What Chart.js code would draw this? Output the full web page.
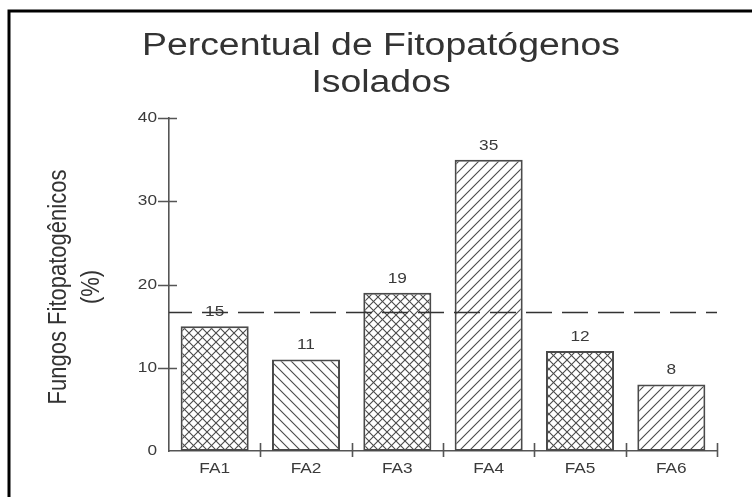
<!DOCTYPE html>
<html>
<head>
<meta charset="utf-8">
<script src="https://cdn.jsdelivr.net/npm/chart.js@4/dist/chart.umd.min.js"></script>
<style>
  html, body { margin: 0; padding: 0; background: #fff; }
  #wrap { width: 752px; height: 497px; }
</style>
</head>
<body>
<div id="wrap"><canvas id="c" width="752" height="497"></canvas></div>
<script>
// Isolated fungi per group, in percent
const categories = ['FA1', 'FA2', 'FA3', 'FA4', 'FA5', 'FA6'];
const percentages = [15, 11, 19, 35, 12, 8];
const hatchKinds = ['cross', 'back', 'cross', 'fwd', 'cross', 'fwd'];
const yTickValues = [0, 10, 20, 30, 40];
const chartTitle = ['Percentual de Fitopatógenos', 'Isolados'];
const yTitle = ['Fungos Fitopatogênicos', '(%)'];

const meanValue = percentages.reduce((a, b) => a + b, 0) / percentages.length;

const FONT = "'Liberation Sans', Arial, Helvetica, sans-serif";
const INK = '#555';
const TEXT = '#3a3a3a';
const WIDEN = 1.15; // text in this figure is set slightly wide

// Hatch fills for the bars
function makeHatch(kind) {
  const s = kind === 'cross' ? 9 : 10;
  const c = document.createElement('canvas');
  c.width = s; c.height = s;
  const g = c.getContext('2d');
  g.fillStyle = '#fff';
  g.fillRect(0, 0, s, s);
  g.strokeStyle = '#4a4a4a';
  g.lineWidth = 1.1;
  const fwd = () => {
    g.beginPath();
    g.moveTo(-1, s + 1); g.lineTo(s + 1, -1);
    g.moveTo(-1, 1); g.lineTo(1, -1);
    g.moveTo(s - 1, s + 1); g.lineTo(s + 1, s - 1);
    g.stroke();
  };
  const back = () => {
    g.beginPath();
    g.moveTo(-1, -1); g.lineTo(s + 1, s + 1);
    g.moveTo(s - 1, -1); g.lineTo(s + 1, 1);
    g.moveTo(-1, s - 1); g.lineTo(1, s + 1);
    g.stroke();
  };
  if (kind === 'fwd' || kind === 'cross') fwd();
  if (kind === 'back' || kind === 'cross') back();
  return g.createPattern(c, 'repeat');
}

// text drawn with a horizontal stretch factor
function wideText(ctx, text, x, y, size, align, baseline, sx, color) {
  ctx.save();
  ctx.font = size + 'px ' + FONT;
  ctx.fillStyle = color || TEXT;
  ctx.textAlign = align;
  ctx.textBaseline = baseline;
  ctx.translate(x, y);
  ctx.scale(sx, 1);
  ctx.fillText(text, 0, 0);
  ctx.restore();
}

const decorations = {
  id: 'decorations',
  afterDatasetsDraw(chart) {
    const ctx = chart.ctx;
    const y = chart.scales.y;
    const area = chart.chartArea;
    const meta = chart.getDatasetMeta(0);

    // value above each bar
    meta.data.forEach((bar, i) => {
      wideText(ctx, String(percentages[i]), bar.x, bar.y - 10, 15, 'center', 'alphabetic', WIDEN);
    });

    // dashed mean line
    const my = Math.round(y.getPixelForValue(meanValue)) + 0.5;
    ctx.save();
    ctx.strokeStyle = '#333';
    ctx.lineWidth = 1.3;
    ctx.setLineDash([26, 10]);
    ctx.lineDashOffset = 3;
    ctx.beginPath();
    ctx.moveTo(area.left, my);
    ctx.lineTo(area.right, my);
    ctx.stroke();
    ctx.restore();
  },
  afterDraw(chart) {
    const ctx = chart.ctx;
    const x = chart.scales.x;
    const y = chart.scales.y;
    const area = chart.chartArea;

    ctx.save();
    ctx.strokeStyle = INK;
    ctx.lineWidth = 1.6;
    ctx.beginPath();
    // y tick marks crossing the axis
    yTickValues.forEach(v => {
      if (v === 0) return;
      const py = Math.round(y.getPixelForValue(v)) + 0.5;
      ctx.moveTo(area.left - 11, py);
      ctx.lineTo(area.left + 8, py);
    });
    // x tick marks at category boundaries
    for (let i = 1; i <= categories.length; i++) {
      const px = Math.round(x.getPixelForValue(i - 0.5)) + 0.5;
      ctx.moveTo(px, area.bottom - 8);
      ctx.lineTo(px, area.bottom + 6);
    }
    ctx.stroke();
    ctx.restore();

    // tick labels
    yTickValues.forEach(v => {
      wideText(ctx, String(v), area.left - 12, y.getPixelForValue(v), 15, 'right', 'middle', WIDEN);
    });
    categories.forEach((c, i) => {
      wideText(ctx, c, x.getPixelForValue(i), area.bottom + 22, 15, 'center', 'alphabetic', WIDEN);
    });

    // chart title, two lines
    ctx.save();
    ctx.font = '31px ' + FONT;
    const tsx = 478 / ctx.measureText(chartTitle[0]).width;
    ctx.restore();
    wideText(ctx, chartTitle[0], 381, 55, 31, 'center', 'alphabetic', tsx, '#333');
    wideText(ctx, chartTitle[1], 381, 92, 31, 'center', 'alphabetic', tsx, '#333');

    // y axis title, rotated
    ctx.save();
    ctx.fillStyle = '#333';
    ctx.font = '22px ' + FONT;
    ctx.textAlign = 'center';
    ctx.textBaseline = 'middle';
    ctx.translate(0, 287);
    ctx.rotate(-Math.PI / 2);
    ctx.scale(1, 1.2);
    ctx.fillText(yTitle[0], 0, 59 / 1.2);
    ctx.fillText(yTitle[1], 0, 92 / 1.2);
    ctx.restore();

    // frame
    ctx.save();
    ctx.strokeStyle = '#000';
    ctx.lineWidth = 3;
    ctx.strokeRect(9, 11, 800, 560);
    ctx.restore();
  }
};

Chart.defaults.font.family = FONT;
Chart.defaults.color = TEXT;

new Chart(document.getElementById('c'), {
  type: 'bar',
  data: {
    labels: categories,
    datasets: [{
      data: percentages,
      backgroundColor: hatchKinds.map(makeHatch),
      borderColor: '#4a4a4a',
      borderWidth: 2,
      borderSkipped: false,
      categoryPercentage: 1,
      barPercentage: 0.745
    }]
  },
  options: {
    responsive: false,
    animation: false,
    devicePixelRatio: 1,
    layout: { padding: { top: 118, right: 35, bottom: 0, left: 0 } },
    plugins: {
      legend: { display: false },
      title: { display: false },
      tooltip: { enabled: false }
    },
    scales: {
      x: {
        offset: true,
        grid: { display: false, offset: true },
        border: { display: true, color: INK, width: 1.6 },
        ticks: { display: false },
        afterFit(s) { s.height = 46; }
      },
      y: {
        min: 0, max: 40,
        grid: { display: false },
        border: { display: true, color: INK, width: 1.6 },
        ticks: { display: false, stepSize: 10 },
        afterFit(s) { s.width = 169; }
      }
    }
  },
  plugins: [decorations]
});
</script>
</body>
</html>
